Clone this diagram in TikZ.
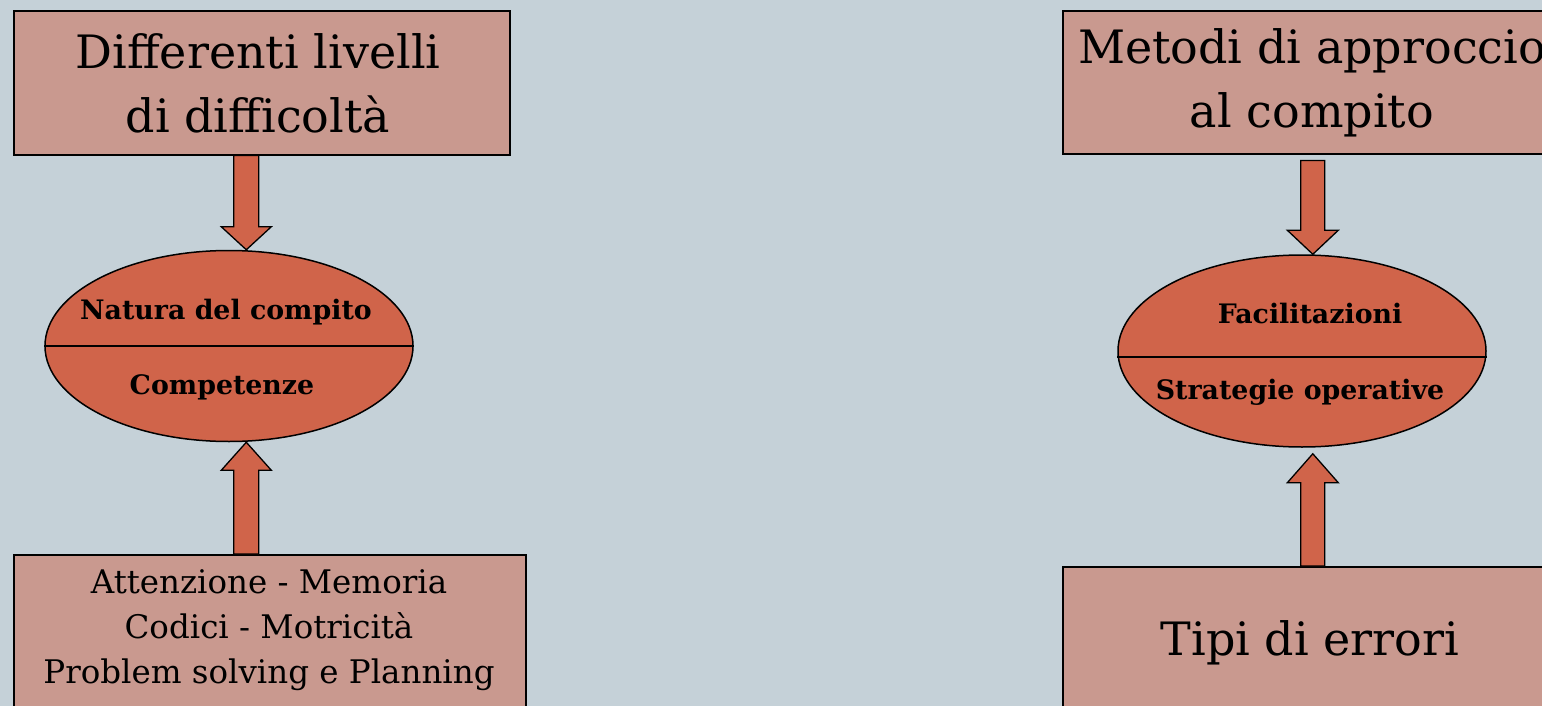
\documentclass[tikz,border=0pt]{standalone}
\usepackage{fontspec}
\setmainfont{DejaVu Serif}
\usetikzlibrary{shapes.geometric,calc}
\definecolor{bg}{HTML}{C5D1D8}
\definecolor{boxfill}{HTML}{C9998F}
\definecolor{ovalfill}{HTML}{D0644A}
\tikzset{
  box/.style={draw=black, line width=1.6pt, fill=boxfill, inner sep=0pt, anchor=north west},
  oval/.style={draw=black, line width=1.5pt, fill=ovalfill, ellipse, inner sep=0pt},
  bigtext/.style={font=\fontsize{46}{64}\selectfont, align=center, inner sep=0pt},
  midtext/.style={font=\fontsize{32.5}{45}\selectfont, align=center, inner sep=0pt},
  ovaltext/.style={font=\fontsize{26.8}{30}\selectfont\bfseries, inner sep=0pt},
  blockarrow/.style={draw=black, line width=1.3pt, fill=ovalfill, line join=miter}
}
% #1 start, #2 tip, #3 shaft half width, #4 head half width, #5 head length
\newcommand\blockarr[5]{%
  \draw[blockarrow] let \p1=(#1), \p2=(#2), \p3=($(#2)!#5!(#1)$) in
    (\x1-#3,\y1) -- (\x1-#3,\y3) -- (\x1-#4,\y3) -- (\x1,\y2) --
    (\x1+#4,\y3) -- (\x1+#3,\y3) -- (\x1+#3,\y1) -- cycle;}
\begin{document}
\begin{tikzpicture}[x=1pt,y=-1pt]
\useasboundingbox (0,0) rectangle (1542,706);
\fill[bg] (0,0) rectangle (1542,706);
\clip (0,0) rectangle (1542,706);

% left column
\node[box, minimum width=496pt, minimum height=144pt] (tl) at (13,10) {};
\node[bigtext] (tlt) at (258,83) {Differenti livelli\\di difficoltà};
\node[oval, minimum width=368pt, minimum height=191pt] (lo) at (229,346) {};
\draw[line width=1.5pt] (lo.west) -- (lo.east);
\node[ovaltext] (lo1) at (226,312) {Natura del compito};
\node[ovaltext] (lo2) at (222,387) {Competenze};
\node[box, minimum width=512pt, minimum height=180pt] (bl) at (13,554) {};
\node[midtext] (blt) at (269,630) {Attenzione - Memoria\\Codici - Motricità\\Problem solving e Planning};

\coordinate (a1s) at ($(tl.south)+(-15.5,0)$);
\coordinate (a1e) at ($(lo.north)+(15.5,0)$);
\blockarr{a1s}{a1e}{12.5pt}{25pt}{23pt}
\coordinate (a2s) at ($(bl.north)+(-23.5,0)$);
\coordinate (a2e) at ($(lo.south)+(16.5,0)$);
\blockarr{a2s}{a2e}{12.5pt}{25pt}{28pt}

% right column
\node[box, minimum width=497pt, minimum height=143pt] (tr) at (1062,10) {};
\node[bigtext] (trt) at (1312,83) {Metodi di approccio\\al compito};
\node[oval, minimum width=368pt, minimum height=192pt] (ro) at (1302,351) {};
\draw[line width=1.5pt] ([yshift=-6pt]ro.west) -- ([yshift=-6pt]ro.east);
\node[ovaltext] (ro1) at (1310,314) {Facilitazioni};
\node[ovaltext] (ro2) at (1300,392) {Strategie operative};
\node[box, minimum width=497pt, minimum height=180pt] (br) at (1062,566) {};
\node[bigtext] (brt) at (1310,643) {Tipi di errori};

\coordinate (a3s) at ($(tr.south)+(1.5,6)$);
\coordinate (a3e) at ($(ro.north)+(10,0)$);
\blockarr{a3s}{a3e}{12pt}{25.5pt}{24pt}
\coordinate (a4s) at ($(br.north)+(1.5,0)$);
\coordinate (a4e) at ($(ro.south)+(10,6)$);
\blockarr{a4s}{a4e}{12pt}{25.5pt}{29pt}
\end{tikzpicture}
\end{document}
